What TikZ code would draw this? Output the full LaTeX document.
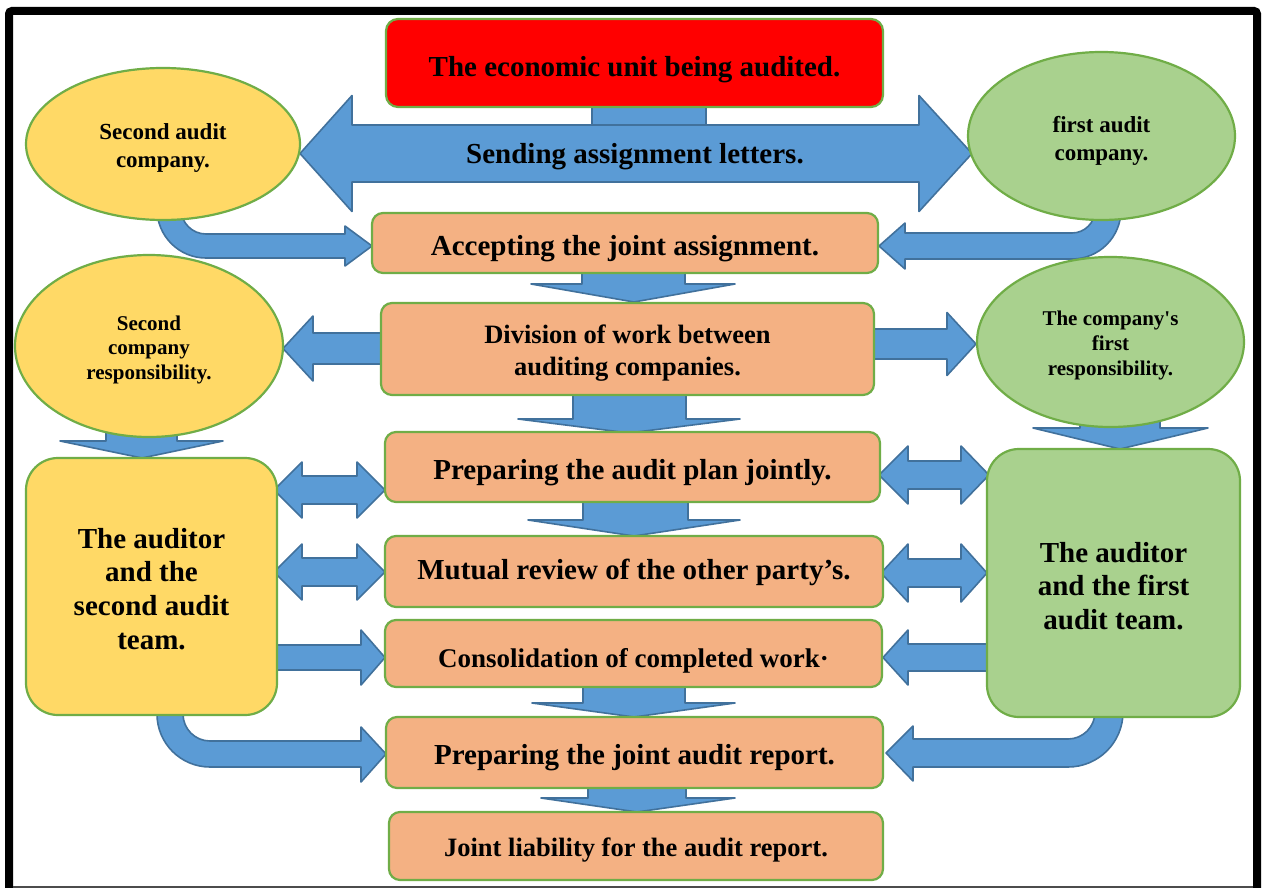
\documentclass[tikz,border=0pt]{standalone}
\usepackage{fontspec}
\setmainfont{Liberation Serif}
\usetikzlibrary{shapes.geometric}
\definecolor{ablue}{HTML}{5B9BD5}
\definecolor{ablueline}{HTML}{41719C}
\definecolor{ayellow}{HTML}{FFD966}
\definecolor{agreen}{HTML}{A9D18E}
\definecolor{aorange}{HTML}{F4B183}
\definecolor{aborder}{HTML}{70AD47}
\definecolor{ared}{HTML}{FF0000}
% block arrow shapes
\newcommand\blkdown[8]{\path[barrow] (#1,#3) -- (#1,#4) -- (#5,#4) -- (#7,#8) -- (#6,#4) -- (#2,#4) -- (#2,#3) -- cycle;}
\newcommand\blkh[6]{\path[barrow] (#1,#4-#5) -- (#2,#4-#5) -- (#2,#4-#6) -- (#3,#4) -- (#2,#4+#6) -- (#2,#4+#5) -- (#1,#4+#5) -- cycle;}
\newcommand\blkdbl[7]{\path[barrow] (#1,#5) -- (#2,#5-#7) -- (#2,#5-#6) -- (#3,#5-#6) -- (#3,#5-#7) -- (#4,#5) -- (#3,#5+#7) -- (#3,#5+#6) -- (#2,#5+#6) -- (#2,#5+#7) -- cycle;}
\newcommand\txtdown[2]{\raisebox{-#1pt}[\height][\depth]{#2}}
\newcommand\mline[2]{\raisebox{-#1pt}[\height][\depth]{\begin{tabular}{@{}c@{}}#2\end{tabular}}}
\begin{document}
\begin{tikzpicture}[x=1pt,y=-1pt,
  barrow/.style={fill=ablue,draw=ablueline,line width=1.6pt,line join=round},
  basebox/.style={draw=aborder,line width=2.2pt,inner sep=0pt,align=center,
    font=\bfseries\fontsize{29}{34}\selectfont},
  cbox/.style={basebox,fill=aorange,rounded corners=11pt},
  ell/.style={basebox,ellipse},
  plaintext/.style={inner sep=0pt,font=\bfseries\fontsize{29}{34}\selectfont}
]
\clip (0,0) rectangle (1264,888);
\useasboundingbox (0,0) rectangle (1264,888);
\fill[white] (0,0) rectangle (1264,888);

% ---------- block arrows (behind the nodes) ----------
\path[barrow] (592,100) rectangle (706,128);
\blkdbl{300}{352}{919}{972}{153.5}{28.5}{58}
% curved: second audit company -> accepting
\path[barrow] (157,205) -- (157,209) arc[start angle=180,end angle=90,radius=49]
  -- (345,258) -- (345,266) -- (372,246) -- (345,226) -- (345,234) -- (206,234)
  arc[start angle=90,end angle=180,radius=25] -- (181,205) -- cycle;
% curved: first audit company -> accepting
\path[barrow] (1095,205) -- (1095,210) arc[start angle=0,end angle=90,radius=23]
  -- (905,233) -- (905,223) -- (879,246) -- (905,269) -- (905,259) -- (1072,259)
  arc[start angle=90,end angle=0,radius=49] -- (1121,205) -- cycle;
% vertical chain
\blkdown{582}{685}{268}{284}{531}{735}{634}{302}
\blkdown{573}{686}{390}{419}{518}{740}{629}{433}
\blkdown{583}{688}{498}{520}{528}{740}{634}{536}
\blkdown{583}{685}{683}{703}{532}{735}{634}{717}
\blkdown{588}{686}{784}{798}{541}{735}{637}{812}
% responsibilities -> teams
\blkdown{106}{177}{425}{441}{60}{223}{142}{458}
\blkdown{1080}{1160}{415}{428}{1033}{1208}{1120}{449}
% division -> responsibilities
\blkh{390}{313}{283}{348.5}{15.5}{32.5}
\blkh{865}{947}{976}{344}{15}{31.5}
% double arrows
\blkdbl{274}{302}{357}{385}{490}{14}{28}
\blkdbl{274}{302}{357}{385}{572}{14}{28}
\blkdbl{879}{908}{961}{989}{475}{14}{29}
\blkdbl{881}{908}{961}{987}{573}{14}{29}
% consolidation
\blkh{265}{361}{385}{657.5}{12.5}{27.5}
\blkh{995}{908}{883}{657.5}{13.5}{27.5}
% curved: teams -> joint report
\path[barrow] (157,705) -- (157,714) arc[start angle=180,end angle=90,radius=53]
  -- (361,767) -- (361,782) -- (386,754) -- (361,727) -- (361,741) -- (210,741)
  arc[start angle=90,end angle=180,radius=27] -- (183,705) -- cycle;
\path[barrow] (1095,705) -- (1095,712) arc[start angle=0,end angle=90,radius=27]
  -- (913,739) -- (913,726) -- (886,753) -- (913,781) -- (913,767) -- (1068,767)
  arc[start angle=90,end angle=0,radius=55] -- (1123,705) -- cycle;

% ---------- nodes ----------
\node[basebox,fill=ared,rounded corners=12pt,minimum width=497pt,minimum height=88pt]
  (unit) at (634.5,63) {\txtdown{6.5}{The economic unit being audited.}};
\node[plaintext] (send) at (635,153.5) {\txtdown{3}{Sending assignment letters.}};
\node[ell,fill=ayellow,minimum width=274pt,minimum height=152pt,
  font=\bfseries\fontsize{23}{28.5}\selectfont] (sec) at (163,144)
  {\mline{4}{Second audit\\company.}};
\node[ell,fill=agreen,minimum width=267pt,minimum height=168pt,
  font=\bfseries\fontsize{23}{28}\selectfont] (fir) at (1101.5,136)
  {\mline{4.5}{first audit\\company.}};
\node[cbox,minimum width=506pt,minimum height=60pt] (acc) at (625,243)
  {\txtdown{6}{Accepting the joint assignment.}};
\node[ell,fill=ayellow,minimum width=268pt,minimum height=182pt,
  font=\bfseries\fontsize{21}{24.5}\selectfont] (secr) at (149,346)
  {\mline{4}{Second\\company\\responsibility.}};
\node[ell,fill=agreen,minimum width=267pt,minimum height=170pt,
  font=\bfseries\fontsize{21}{25}\selectfont] (firr) at (1110.5,342)
  {\mline{3.5}{The company\textquotesingle s\\first\\responsibility.}};
\node[cbox,minimum width=493pt,minimum height=92pt,
  font=\bfseries\fontsize{26.5}{32}\selectfont] (div) at (627.5,349)
  {\mline{4}{Division of work between\\auditing companies.}};
\node[cbox,minimum width=495pt,minimum height=70pt] (plan) at (632.5,467)
  {\txtdown{6}{Preparing the audit plan jointly.}};
\node[cbox,minimum width=498pt,minimum height=71pt] (mut) at (634,571.5)
  {\txtdown{1}{Mutual review of the other party’s.}};
\node[cbox,minimum width=497pt,minimum height=67pt,
  font=\bfseries\fontsize{27}{32}\selectfont] (con) at (633.5,653.5)
  {\txtdown{7.5}{Consolidation of completed work·}};
\node[cbox,minimum width=497pt,minimum height=71pt] (rep) at (634.5,752.5)
  {\txtdown{5}{Preparing the joint audit report.}};
\node[cbox,minimum width=494pt,minimum height=68pt,
  font=\bfseries\fontsize{26.5}{32}\selectfont] (joint) at (636,846)
  {\txtdown{4.5}{Joint liability for the audit report.}};
\node[basebox,fill=ayellow,rounded corners=32pt,minimum width=251pt,minimum height=257pt,
  font=\bfseries\fontsize{29}{33.7}\selectfont] (audL) at (151.5,586.5)
  {\mline{5.5}{The auditor\\and the\\second audit\\team.}};
\node[basebox,fill=agreen,rounded corners=32pt,minimum width=253pt,minimum height=268pt,
  font=\bfseries\fontsize{29}{33.5}\selectfont] (audR) at (1113.5,583)
  {\mline{6}{The auditor\\and the first\\audit team.}};

% ---------- frame ----------
\draw[line width=8pt,rounded corners=3pt] (9,11) rectangle (1257,905);
\draw[black!70,line width=1.5pt] (13,887) -- (1253,887);
\end{tikzpicture}
\end{document}
